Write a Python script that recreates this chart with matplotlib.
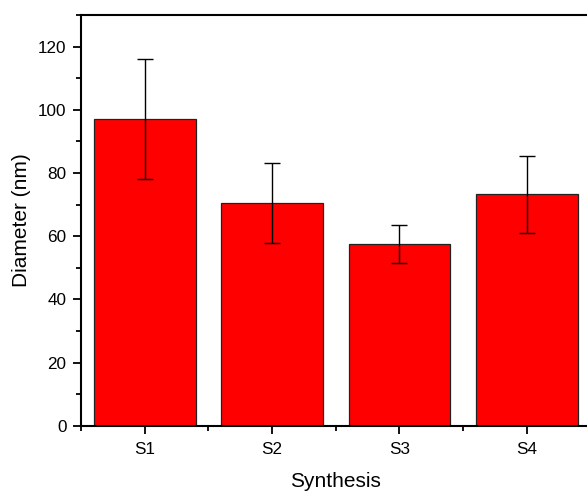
import numpy as np
import matplotlib
matplotlib.use("Agg")
from matplotlib import pyplot as plt
from matplotlib.ticker import MultipleLocator

# bar data
samples = ['S1', 'S2', 'S3', 'S4']
diameter = [97.2, 70.5, 57.6, 73.2]
diameter_err = [19.0, 12.6, 6.0, 12.3]

plt.rcParams['font.family'] = ['Liberation Sans', 'DejaVu Sans']

fig = plt.figure(figsize=(5.87, 4.91), dpi=100)
ax = fig.add_axes([0.138, 0.133, 0.868, 0.8365])

x = np.arange(1, len(samples) + 1)
ax.bar(x, diameter, width=0.8, color='#ff0000', edgecolor='#222222', linewidth=0.9,
       yerr=diameter_err, error_kw=dict(ecolor='black', elinewidth=1.0, capsize=5.5, capthick=1.0))

ax.set_xlim(0.5, 4.5)
ax.set_ylim(0, 130)
ax.set_xticks(x)
ax.set_xticklabels(samples)
ax.xaxis.set_minor_locator(MultipleLocator(1.0, offset=0.5))
ax.yaxis.set_major_locator(MultipleLocator(20))
ax.yaxis.set_minor_locator(MultipleLocator(10))

for sp in ax.spines.values():
    sp.set_linewidth(1.5)
ax.tick_params(which='major', direction='out', length=5.5, width=1.3, labelsize=12.3)
ax.tick_params(axis='x', which='major', pad=6)
ax.tick_params(axis='y', which='major', pad=5)
ax.tick_params(which='minor', direction='out', length=3.5, width=1.3)

ax.set_xlabel('Synthesis', fontsize=15, labelpad=11)
ax.set_ylabel('Diameter (nm)', fontsize=15, labelpad=5)

fig.savefig('out.png', dpi=100)
